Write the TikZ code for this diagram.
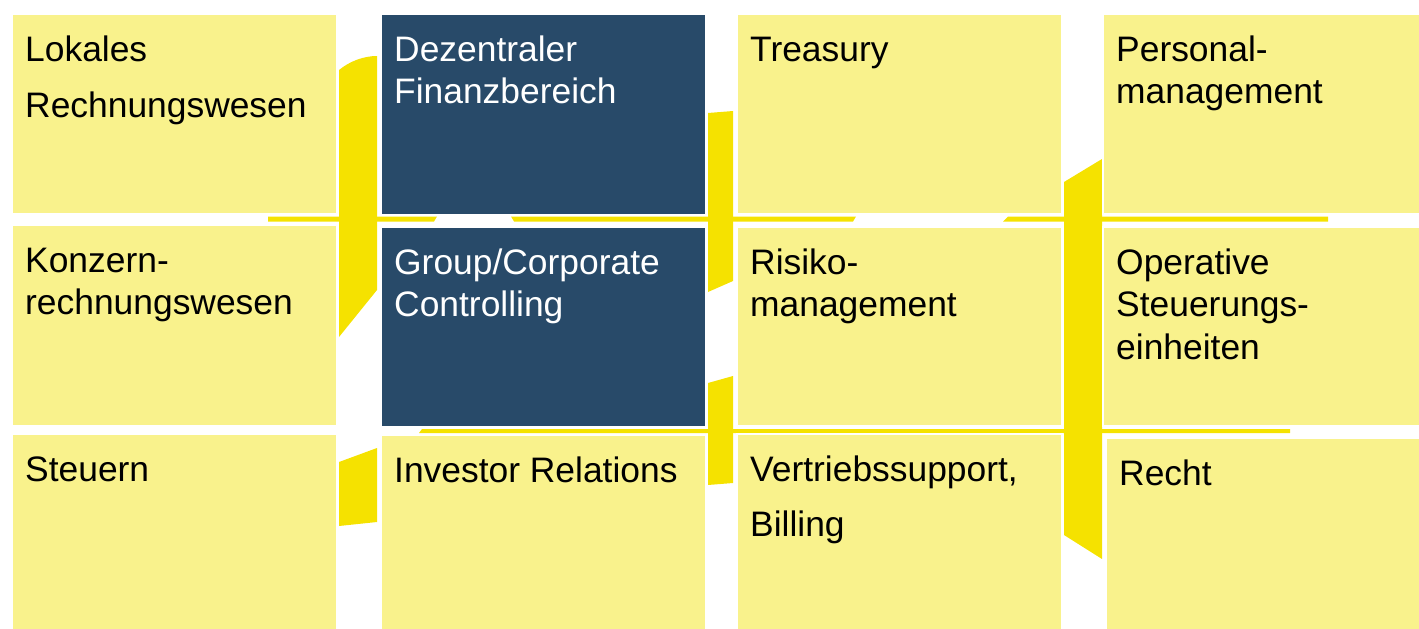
\documentclass[tikz,border=0pt]{standalone}
\usepackage{fontspec}
\setmainfont{Liberation Sans}
\definecolor{paleyellow}{HTML}{F9F28C}
\definecolor{bandyellow}{HTML}{F5E200}
\definecolor{navy}{HTML}{284A69}
\begin{document}
\begin{tikzpicture}[x=1pt,y=-1pt,
  tile/.style={rectangle, anchor=north west, inner sep=0, draw=white, line width=1.5pt, fill=paleyellow},
  darktile/.style={tile, fill=navy},
  label/.style={anchor=north west, inner sep=0, align=left, font=\fontsize{35.4}{42.5}\selectfont, xshift=14pt, yshift=-18.25pt},
  darklabel/.style={label, text=white},
  band/.style={fill=bandyellow, draw=none}]
\useasboundingbox (0,0) rectangle (1419,629);

% yellow bands running behind the tiles
\fill[band] (339,70) .. controls (350,61) and (364,56) .. (377,56) -- (377,290) -- (339,337) -- cycle;
\fill[band] (339,462) -- (377,448) -- (377,522) -- (339,526) -- cycle;
\fill[band] (708,113) -- (733,111) -- (733,281) -- (708,292) -- cycle;
\fill[band] (708,383) -- (733,376) -- (733,483) -- (708,485) -- cycle;
\fill[band] (1064,182) -- (1102,159) -- (1102,559) -- (1064,535) -- cycle;
\fill[band] (268,216.5) -- (437,216.5) -- (434,221.5) -- (268,221.5) -- cycle;
\fill[band] (511,216.5) -- (856,216.5) -- (853,221.5) -- (514,221.5) -- cycle;
\fill[band] (1008,216.5) -- (1328,216.5) -- (1328,221.5) -- (1003,221.5) -- cycle;
\fill[band] (422,429) -- (1290,429) -- (1290,433) -- (419,433) -- cycle;

% column 1
\node[tile, minimum width=325pt, minimum height=200pt] (b11) at (11,13) {};
\node[tile, minimum width=325pt, minimum height=201pt] (b21) at (11,224) {};
\node[tile, minimum width=325pt, minimum height=196pt] (b31) at (11,433) {};
% column 2
\node[darktile, minimum width=325pt, minimum height=201pt] (b12) at (380,13) {};
\node[darktile, minimum width=325pt, minimum height=200pt] (b22) at (380,226) {};
\node[tile, minimum width=325pt, minimum height=195pt] (b32) at (380,434) {};
% column 3
\node[tile, minimum width=325pt, minimum height=200pt] (b13) at (736,13) {};
\node[tile, minimum width=325pt, minimum height=199pt] (b23) at (736,226) {};
\node[tile, minimum width=325pt, minimum height=196pt] (b33) at (736,433) {};
% column 4
\node[tile, minimum width=318pt, minimum height=200pt] (b14) at (1102,13) {};
\node[tile, minimum width=318pt, minimum height=199pt] (b24) at (1102,226) {};
\node[tile, minimum width=315pt, minimum height=192pt] (b34) at (1105,437) {};

% labels
\node[label] (t11) at (b11.north west) {\strut Lokales\\[13.5pt]Rechnungswesen};
\node[label] (t21) at (b21.north west) {\strut Konzern-\\rechnungswesen};
\node[label] (t31) at (b31.north west) {\strut Steuern};
\node[darklabel] (t12) at (b12.north west) {\strut Dezentraler\\Finanzbereich};
\node[darklabel] (t22) at (b22.north west) {\strut Group/Corporate\\Controlling};
\node[label] (t32) at (b32.north west) {\strut Investor Relations};
\node[label] (t13) at (b13.north west) {\strut Treasury};
\node[label] (t23) at (b23.north west) {\strut Risiko-\\management};
\node[label] (t33) at (b33.north west) {\strut Vertriebssupport,\\[12.5pt]Billing};
\node[label] (t14) at (b14.north west) {\strut Personal-\\management};
\node[label] (t24) at (b24.north west) {\strut Operative\\Steuerungs-\\einheiten};
\node[label] (t34) at (b34.north west) {\strut Recht};
\end{tikzpicture}
\end{document}
